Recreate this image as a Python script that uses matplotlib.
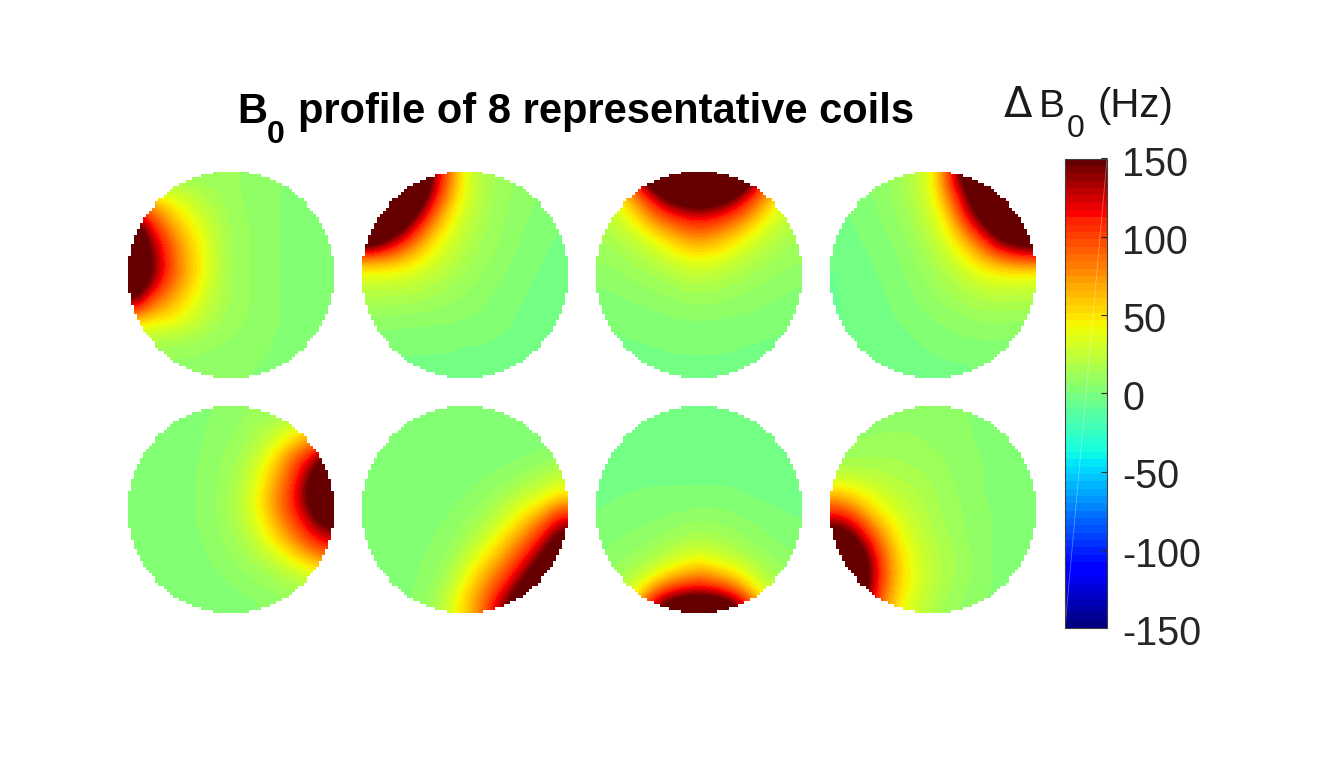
import numpy as np
import matplotlib
matplotlib.use('Agg')
import matplotlib.pyplot as plt
from matplotlib.colors import ListedColormap
from matplotlib.transforms import ScaledTranslation

plt.rcParams['font.family'] = ['Liberation Sans', 'DejaVu Sans']

W, H = 1326, 757

title_text = 'profile of 8 representative coils'
cbar_ticks = [-150, -100, -50, 0, 50, 100, 150]
cbar_labels = ['-150', '-100', '-50', '0', '50', '100', '150']

coil_1 = [
    [12, 12, 12, 12, 11, 11, 10, 9, 7, 5, 3, 2, 1],
    [60, 45, 32, 28, 20, 15, 10, 9, 7, 5, 3, 1, 0],
    [100, 85, 60, 42, 28, 18, 12, 9, 7, 5, 3, 1, 0],
    [170, 115, 78, 55, 38, 22, 13, 10, 7, 5, 3, 1, 0],
    [190, 135, 100, 65, 45, 24, 14, 10, 7, 5, 3, 1, 0],
    [200, 145, 105, 70, 48, 25, 14, 10, 7, 5, 3, 1, 0],
    [195, 148, 105, 72, 48, 25, 14, 10, 7, 5, 3, 1, 0],
    [175, 118, 85, 62, 40, 22, 14, 10, 7, 5, 3, 1, 0],
    [120, 80, 65, 48, 32, 20, 13, 10, 7, 5, 3, 1, 0],
    [50, 45, 42, 35, 24, 16, 11, 9, 7, 5, 3, 1, 0],
    [22, 20, 18, 17, 14, 11, 9, 8, 6, 4, 3, 1, 0],
    [12, 11, 10, 10, 9, 8, 7, 6, 5, 4, 2, 1, 0],
    [8, 8, 8, 7, 7, 6, 6, 5, 4, 3, 2, 1, 0],
]
coil_2 = [
    [220, 220, 220, 210, 140, 85, 38, 20, 13, 9, 6, 4, 3],
    [220, 220, 210, 190, 125, 72, 36, 20, 13, 9, 6, 4, 2],
    [220, 210, 190, 155, 100, 55, 30, 18, 12, 8, 5, 3, 1],
    [210, 190, 165, 115, 70, 42, 25, 16, 11, 7, 4, 2, 0],
    [175, 145, 110, 78, 48, 32, 21, 14, 10, 6, 3, 1, -1],
    [80, 75, 65, 50, 36, 25, 17, 12, 8, 5, 2, 0, -2],
    [38, 38, 36, 30, 23, 18, 13, 10, 6, 3, 1, -1, -3],
    [22, 22, 21, 20, 17, 13, 10, 7, 4, 2, 0, -2, -3],
    [13, 13, 13, 12, 10, 9, 7, 5, 3, 1, -1, -3, -4],
    [7, 7, 6, 6, 5, 5, 4, 3, 2, 0, -2, -3, -4],
    [3, 3, 2, 2, 2, 2, 1, 1, 0, -1, -2, -3, -4],
    [1, 0, 0, 0, 0, 0, -1, -1, -2, -2, -3, -3, -4],
    [0, -1, -1, -1, -2, -2, -3, -3, -3, -3, -3, -3, -3],
]
coil_3 = [
    [60, 80, 120, 180, 220, 240, 250, 240, 220, 180, 120, 80, 60],
    [30, 50, 85, 125, 165, 190, 200, 190, 165, 125, 85, 50, 30],
    [22, 35, 58, 90, 115, 130, 137, 130, 115, 90, 60, 35, 22],
    [18, 26, 38, 60, 78, 92, 100, 92, 78, 60, 38, 26, 18],
    [13, 18, 24, 34, 48, 62, 68, 62, 50, 36, 25, 18, 13],
    [10, 13, 16, 22, 30, 38, 42, 38, 31, 23, 17, 13, 10],
    [7, 9, 11, 14, 18, 23, 25, 23, 19, 15, 12, 9, 7],
    [4, 6, 7, 9, 11, 14, 15, 14, 12, 10, 8, 6, 4],
    [2, 3, 4, 5, 7, 8, 9, 8, 7, 6, 5, 3, 2],
    [0, 1, 2, 2, 3, 4, 4, 4, 3, 3, 2, 1, 0],
    [-1, 0, 0, 1, 1, 1, 2, 1, 1, 1, 0, 0, -1],
    [-2, -1, -1, -1, 0, 0, 0, 0, 0, -1, -1, -1, -2],
    [-2, -2, -2, -2, -1, -1, -1, -1, -1, -2, -2, -2, -2],
]
coil_4 = [
    [1, 3, 5, 8, 14, 22, 42, 100, 165, 210, 230, 240, 250],
    [0, 2, 4, 8, 13, 22, 38, 85, 135, 190, 220, 230, 240],
    [-1, 1, 3, 6, 11, 19, 33, 62, 120, 165, 200, 220, 230],
    [-2, 0, 2, 5, 9, 16, 28, 48, 88, 135, 170, 200, 220],
    [-3, -1, 1, 3, 7, 13, 22, 36, 60, 90, 133, 155, 165],
    [-4, -2, 0, 2, 5, 10, 17, 27, 42, 60, 78, 92, 100],
    [-5, -3, -1, 1, 4, 8, 13, 19, 28, 36, 42, 44, 42],
    [-5, -3, -2, 0, 3, 6, 10, 14, 19, 24, 26, 26, 25],
    [-5, -4, -2, -1, 2, 4, 7, 10, 13, 15, 16, 16, 15],
    [-5, -4, -3, -1, 0, 2, 4, 6, 8, 9, 10, 9, 8],
    [-4, -4, -3, -2, -1, 0, 2, 3, 4, 5, 5, 4, 4],
    [-4, -3, -3, -3, -2, -1, 0, 1, 1, 2, 2, 1, 1],
    [-3, -3, -3, -3, -3, -2, -2, -1, -1, 0, 0, 0, 0],
]
coil_5 = [
    [0, 0, 1, 2, 3, 5, 7, 9, 11, 13, 15, 15, 15],
    [0, 0, 1, 2, 4, 6, 8, 12, 18, 25, 38, 50, 60],
    [0, 0, 1, 2, 4, 7, 10, 15, 24, 42, 65, 85, 110],
    [0, 0, 1, 2, 5, 8, 12, 19, 36, 62, 95, 125, 170],
    [0, 0, 1, 3, 5, 8, 13, 24, 45, 72, 105, 150, 190],
    [0, 0, 1, 3, 5, 9, 15, 27, 50, 80, 112, 160, 210],
    [0, 0, 1, 3, 5, 9, 16, 28, 50, 80, 110, 145, 200],
    [0, 0, 1, 3, 5, 8, 14, 24, 42, 68, 95, 125, 150],
    [0, 0, 1, 2, 4, 7, 12, 18, 33, 52, 75, 100, 120],
    [0, 0, 1, 2, 3, 6, 9, 14, 20, 33, 48, 65, 80],
    [0, 0, 0, 1, 2, 4, 6, 9, 13, 18, 25, 35, 45],
    [0, 0, 0, 1, 1, 2, 4, 6, 8, 11, 14, 18, 22],
    [0, 0, 0, 0, 1, 1, 2, 3, 5, 7, 9, 11, 13],
]
coil_6 = [
    [0, 0, 0, 0, 0, 0, 0, 0, 0, 0, 0, 0, 0],
    [0, 0, 0, 0, 0, 0, 0, 0, 0, 1, 1, 1, 1],
    [0, 0, 0, 0, 0, 0, 0, 1, 1, 2, 3, 4, 5],
    [0, 0, 0, 0, 0, 1, 1, 2, 3, 4, 6, 8, 12],
    [0, 0, 0, 0, 1, 1, 2, 4, 6, 9, 14, 20, 28],
    [0, 0, 0, 1, 1, 2, 4, 7, 11, 18, 26, 33, 45],
    [0, 0, 1, 1, 2, 4, 7, 11, 18, 30, 45, 62, 92],
    [0, 1, 1, 2, 3, 6, 10, 17, 30, 48, 70, 96, 135],
    [0, 1, 2, 3, 5, 8, 14, 28, 45, 68, 92, 128, 170],
    [1, 1, 2, 4, 6, 11, 24, 42, 62, 88, 118, 160, 200],
    [1, 2, 3, 4, 8, 16, 35, 58, 82, 110, 148, 190, 220],
    [1, 2, 3, 5, 10, 24, 48, 72, 100, 136, 180, 210, 230],
    [1, 2, 3, 6, 14, 30, 56, 80, 125, 165, 200, 220, 240],
]
coil_7 = [
    [-2, -3, -3, -4, -4, -4, -4, -4, -4, -4, -3, -3, -2],
    [-2, -3, -4, -4, -4, -5, -5, -5, -4, -4, -4, -3, -3],
    [-3, -3, -4, -4, -4, -4, -4, -4, -4, -4, -4, -4, -3],
    [-3, -3, -3, -3, -3, -3, -3, -3, -3, -3, -3, -3, -3],
    [-2, -1, -1, -1, -1, -1, -1, -1, -1, -2, -2, -3, -3],
    [-1, 0, 0, 1, 1, 1, 1, 1, 1, 0, -1, -1, -2],
    [0, 1, 2, 2, 3, 4, 5, 5, 4, 2, 1, 0, -1],
    [1, 3, 4, 5, 7, 9, 11, 10, 8, 6, 4, 2, 1],
    [3, 5, 7, 9, 13, 17, 20, 18, 14, 10, 7, 4, 3],
    [5, 8, 11, 16, 24, 32, 38, 32, 26, 18, 12, 8, 5],
    [8, 12, 20, 32, 50, 62, 75, 62, 52, 36, 20, 12, 8],
    [12, 20, 34, 70, 100, 115, 122, 115, 98, 62, 35, 20, 12],
    [15, 30, 60, 130, 165, 185, 195, 185, 165, 125, 60, 30, 15],
]
coil_8 = [
    [8, 8, 8, 8, 8, 8, 7, 6, 5, 4, 3, 2, 2],
    [8, 8, 8, 9, 9, 9, 8, 7, 5, 4, 3, 2, 2],
    [10, 10, 11, 11, 11, 10, 9, 8, 6, 4, 3, 2, 1],
    [14, 15, 15, 15, 14, 13, 11, 9, 7, 5, 3, 2, 1],
    [28, 26, 24, 21, 18, 16, 13, 10, 7, 5, 3, 2, 1],
    [60, 48, 38, 29, 23, 19, 15, 11, 8, 5, 3, 2, 1],
    [100, 80, 55, 39, 29, 22, 16, 12, 9, 6, 4, 2, 1],
    [145, 125, 85, 55, 36, 25, 18, 13, 9, 6, 4, 2, 1],
    [190, 160, 115, 72, 44, 29, 20, 15, 10, 7, 4, 2, 1],
    [220, 190, 140, 85, 50, 32, 22, 16, 11, 7, 4, 2, 1],
    [240, 200, 145, 90, 52, 34, 23, 16, 11, 7, 4, 2, 1],
    [240, 200, 140, 85, 50, 33, 22, 15, 10, 6, 4, 2, 1],
    [220, 180, 125, 75, 42, 28, 18, 12, 8, 5, 3, 2, 1],
]
coils = [coil_1, coil_2, coil_3, coil_4, coil_5, coil_6, coil_7, coil_8]


def px_axes(fig, left, top, right, bottom):
    return fig.add_axes([left / W, 1 - bottom / H, (right - left) / W, (bottom - top) / H])


def px_text(fig, x, y, s, **kwargs):
    fig.text(x / W, 1 - y / H, s, ha='left', va='baseline', **kwargs)


fig = plt.figure(figsize=(W / 100, H / 100), dpi=100)

# jet in 64 steps, the top end runs darker than the stock one
jet_colors = plt.get_cmap('jet')(np.linspace(0, 1, 64))
jet_colors[-8:, 0] = np.linspace(1.0, 0.4, 8)
jet_colors[-8:, 1:3] = 0
cmap = ListedColormap(jet_colors)

# blocky white surround so the disc edge keeps its pixel steps
n_cells = 68
centres = (np.arange(n_cells) + 0.5) / n_cells * 2 - 1
xx, yy = np.meshgrid(centres, centres)
surround = np.zeros((n_cells, n_cells, 4))
surround[..., :3] = 1
surround[..., 3] = (xx ** 2 + yy ** 2 > 1.0).astype(float)

lefts = [127.5, 362, 596, 830]
tops = [171.5, 406.5]
im = None
for i, coil in enumerate(coils):
    left = lefts[i % 4]
    top = tops[i // 4]
    ax = px_axes(fig, left, top, left + 205.5, top + 207)
    im = ax.imshow(np.array(coil, dtype=float), cmap=cmap, vmin=-150, vmax=150,
                   interpolation='bicubic', extent=[-1, 1, -1, 1], aspect='auto')
    ax.imshow(surround, interpolation='nearest', extent=[-1, 1, -1, 1], aspect='auto')
    ax.axis('off')

cax = px_axes(fig, 1065, 158.5, 1107, 628)
cbar = fig.colorbar(im, cax=cax, ticks=cbar_ticks)
cbar.ax.set_yticklabels(cbar_labels)
cbar.ax.tick_params(direction='in', length=4, width=0.8, labelsize=28.5, labelcolor='#262626',
                    color='#262626', pad=11)
# labels sit a touch below their ticks
shift_down = ScaledTranslation(0, -2 / 100, fig.dpi_scale_trans)
for label in cbar.ax.get_yticklabels():
    label.set_transform(label.get_transform() + shift_down)
cbar.outline.set_edgecolor('#404040')
cbar.outline.set_linewidth(0.8)
cax.plot([0, 1], [0, 1], transform=cax.transAxes, color='white', lw=0.6, alpha=0.35)

px_text(fig, 237, 123, 'B', fontsize=30, fontweight='bold')
px_text(fig, 267, 143, '0', fontsize=23, fontweight='bold')
px_text(fig, 298, 123, title_text, fontsize=30, fontweight='bold')

px_text(fig, 1004, 117, '\u0394', fontsize=30, color='#1a1a1a', family='DejaVu Sans')
px_text(fig, 1039, 117, 'B', fontsize=28, color='#1a1a1a')
px_text(fig, 1067, 137, '0', fontsize=23, color='#1a1a1a')
px_text(fig, 1098, 117, '(Hz)', fontsize=29, color='#1a1a1a')

fig.savefig('out.png', dpi=100, facecolor='white')
